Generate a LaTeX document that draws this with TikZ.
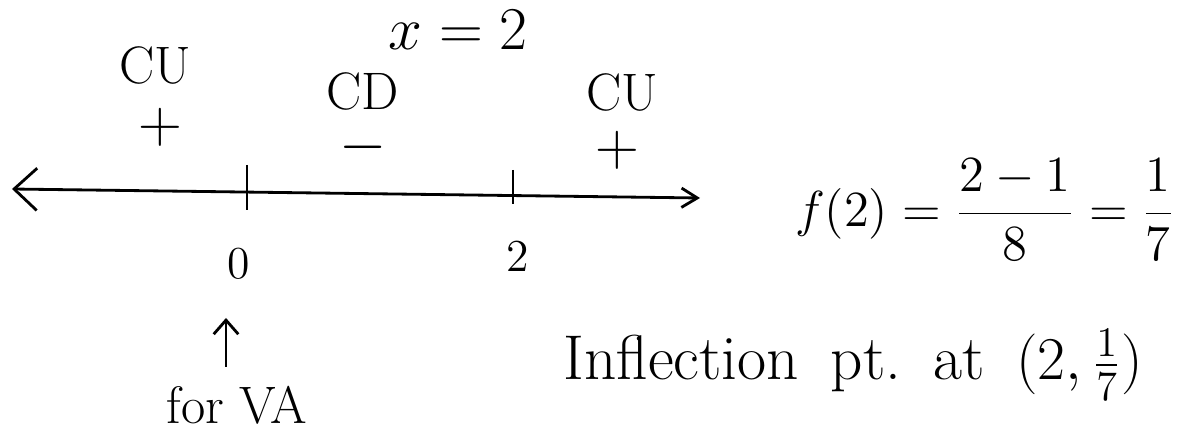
\documentclass[tikz,border=0pt]{standalone}
\usetikzlibrary{arrows.meta}

\begin{document}
\begin{tikzpicture}[x=0.01cm,y=-0.01cm,line width=.8pt,
  hand/.style={font=\fontsize{15}{18}\selectfont,inner sep=0pt},
  sign/.style={font=\fontsize{17}{20}\selectfont,inner sep=0pt},
  ticklabel/.style={font=\fontsize{13}{16}\selectfont,inner sep=0pt},
  numline/.style={{Straight Barb[length=6.5pt,width=12pt]}-{Straight Barb[length=4.5pt,width=5.5pt]}},
  vaarrow/.style={-{Straight Barb[length=4pt,width=7pt]}}]
  \useasboundingbox (0,0) rectangle (1178,437);
  % number line with the two marks
  \coordinate (lineL) at (12,189);
  \coordinate (lineR) at (700,198);
  \draw[numline] (lineL) -- (lineR);
  \coordinate (tickA) at (247,165);
  \coordinate (tickB) at (247,210);
  \coordinate (tickC) at (513,170);
  \coordinate (tickD) at (513,204);
  \draw (tickA) -- (tickB);
  \draw (tickC) -- (tickD);
  \node[ticklabel] (zero) at (239,264) {0};
  \node[ticklabel] (two) at (518,256) {2};
  % concavity signs above the line
  \node[hand,font=\fontsize{17}{20}\selectfont] (xeq) at (458,30) {$x = 2$};
  \node[hand] (culeft) at (155,65) {CU};
  \node[sign] (plusleft) at (160,127) {$+$};
  \node[hand] (cd) at (363,91) {CD};
  \node[sign] (minus) at (363,163) {\smash{$-$}};
  \node[hand] (curight) at (622,92) {CU};
  \node[sign] (plusright) at (617,150) {$+$};
  % vertical asymptote note
  \coordinate (vafoot) at (226,367);
  \coordinate (vatip) at (226,318);
  \draw[vaarrow] (vafoot) -- (vatip);
  \node[hand] (va) at (237,405) {for VA};
  % value at x = 2
  \node[hand] (fval) at (985,210) {$f(2) = \displaystyle\frac{2-1}{8} = \frac{1}{7}$};
  \node[hand,font=\fontsize{18}{22}\selectfont,anchor=base west] (infl) at (562,380) {\spaceskip=.5em Inflection pt.\ at $(2,\frac{1}{7})$};
\end{tikzpicture}
\end{document}
